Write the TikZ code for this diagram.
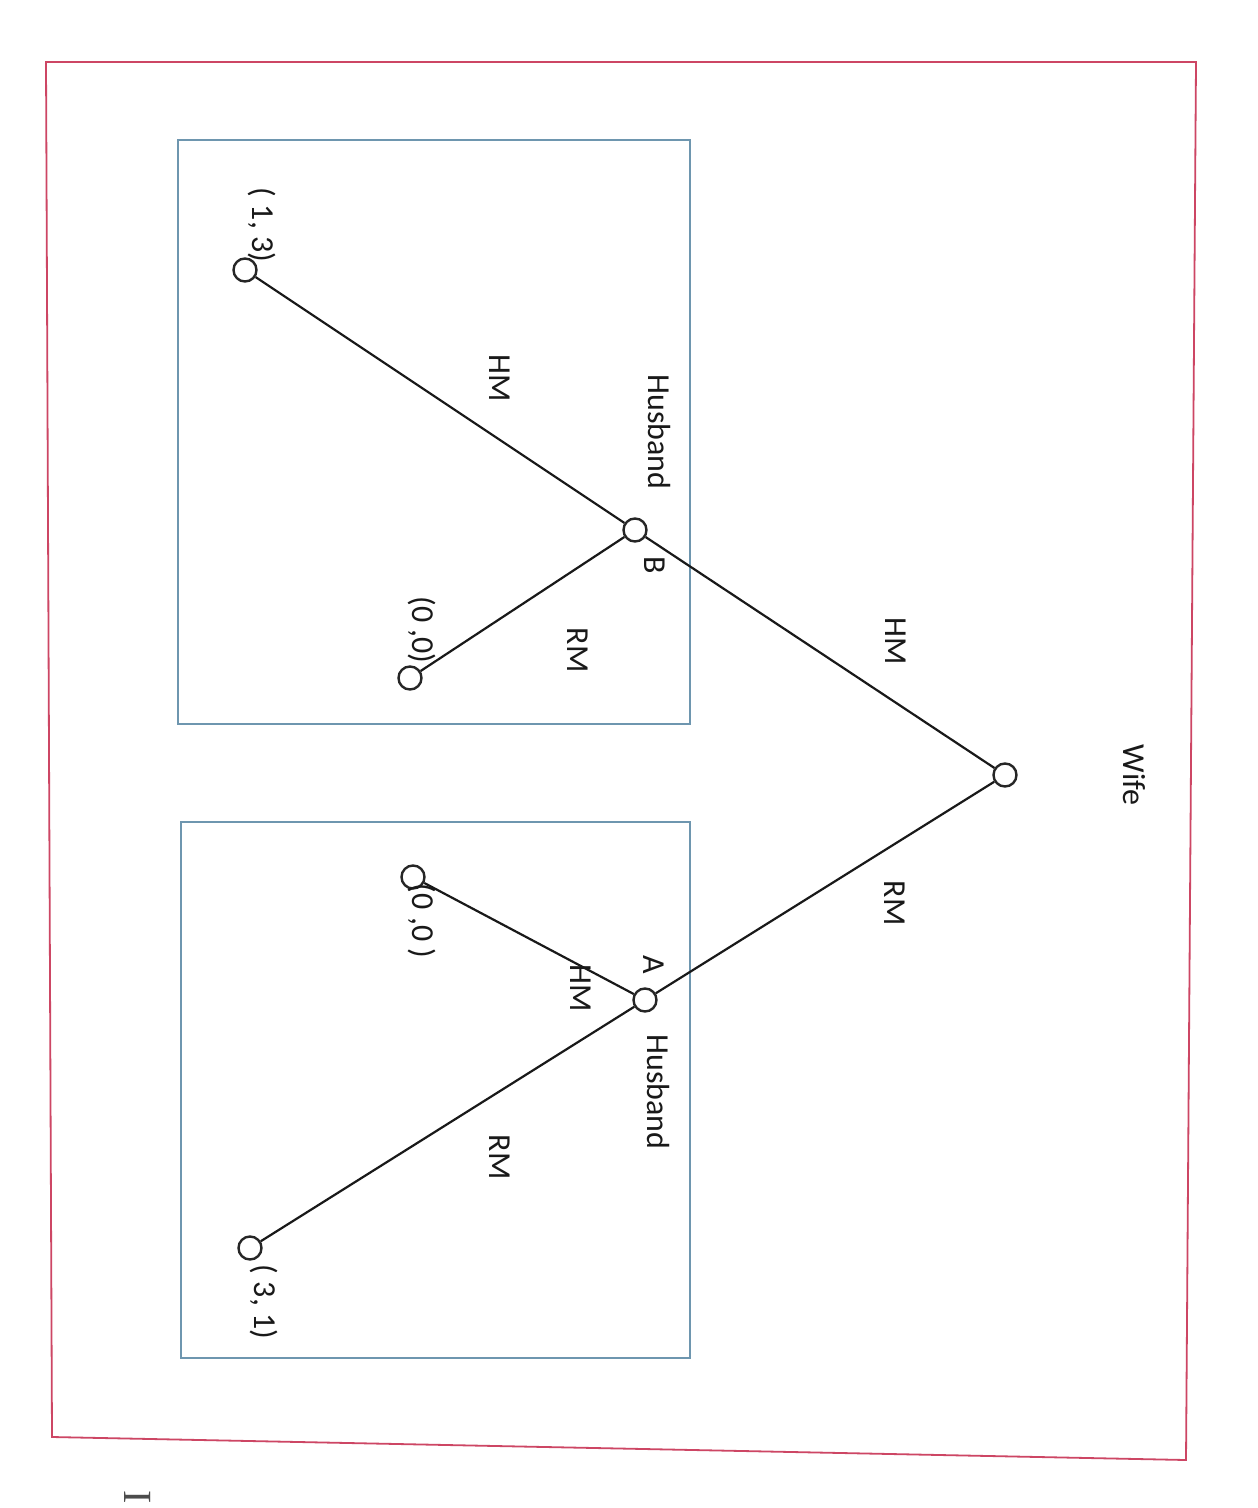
\documentclass[tikz,border=0pt]{standalone}
\usepackage{fontspec}
\setmainfont{Carlito}
\newfontfamily\serifmark{Liberation Serif}
\begin{document}
\begin{tikzpicture}[x=0.5pt,y=-0.5pt,
  gnode/.style={circle,draw=black!85,line width=1.2pt,fill=white,minimum size=11.5pt,inner sep=0pt},
  edge/.style={draw=black!90,line width=1.1pt},
  lbl/.style={rotate=-90,font=\fontsize{16}{18}\selectfont,text=black!90,inner sep=0pt},
  outerframe/.style={draw={rgb,255:red,205;green,70;blue,100},line width=0.9pt},
  innerbox/.style={draw={rgb,255:red,110;green,150;blue,175},line width=0.8pt}]
\useasboundingbox[fill=white] (0,0) rectangle (1257,1508);
% frames
\draw[outerframe] (46,62) -- (1196,62) -- (1186,1460) -- (52,1437) -- cycle;
\draw[innerbox] (178,140) rectangle (690,724);
\draw[innerbox] (181,822) rectangle (690,1358);
% nodes
\node[gnode] (wife) at (1005,775) {};
\node[gnode] (B) at (635,530) {};
\node[gnode] (A) at (645,1000) {};
\node[gnode] (l13) at (245,270) {};
\node[gnode] (l00a) at (410,678) {};
\node[gnode] (l00b) at (413,877) {};
\node[gnode] (l31) at (250,1248) {};
% edges
\draw[edge] (wife) -- (B);
\draw[edge] (wife) -- (A);
\draw[edge] (B) -- (l13);
\draw[edge] (B) -- (l00a);
\draw[edge] (A) -- (l00b);
\draw[edge] (A) -- (l31);
% labels
\node[lbl] (twife) at (1134,775) {Wife};
\node[lbl] (thm1) at (896,641) {HM};
\node[lbl] (trm1) at (895,903) {RM};
\node[lbl] (thusb) at (659,432) {Husband};
\node[lbl] (tB) at (655,565) {B};
\node[lbl] (thm2) at (500,378) {HM};
\node[lbl] (trm2) at (578,650) {RM};
\node[lbl] (tp13) at (262,225) {( 1, 3)};
\node[lbl] (tp00a) at (422,630) {(0 ,0)};
\node[lbl] (tA) at (654,965) {A};
\node[lbl] (thm3) at (581,988) {HM};
\node[lbl] (thusa) at (658,1092) {Husband};
\node[lbl] (trm3) at (500,1157) {RM};
\node[lbl] (tp00b) at (422,921) {(0 ,0 )};
\node[lbl] (tp31) at (264,1302) {( 3, 1)};
\node[rotate=-90,font=\serifmark\fontsize{20}{22}\selectfont,text=black!70,inner sep=0pt] (tI) at (138,1497) {I};
\end{tikzpicture}
\end{document}
